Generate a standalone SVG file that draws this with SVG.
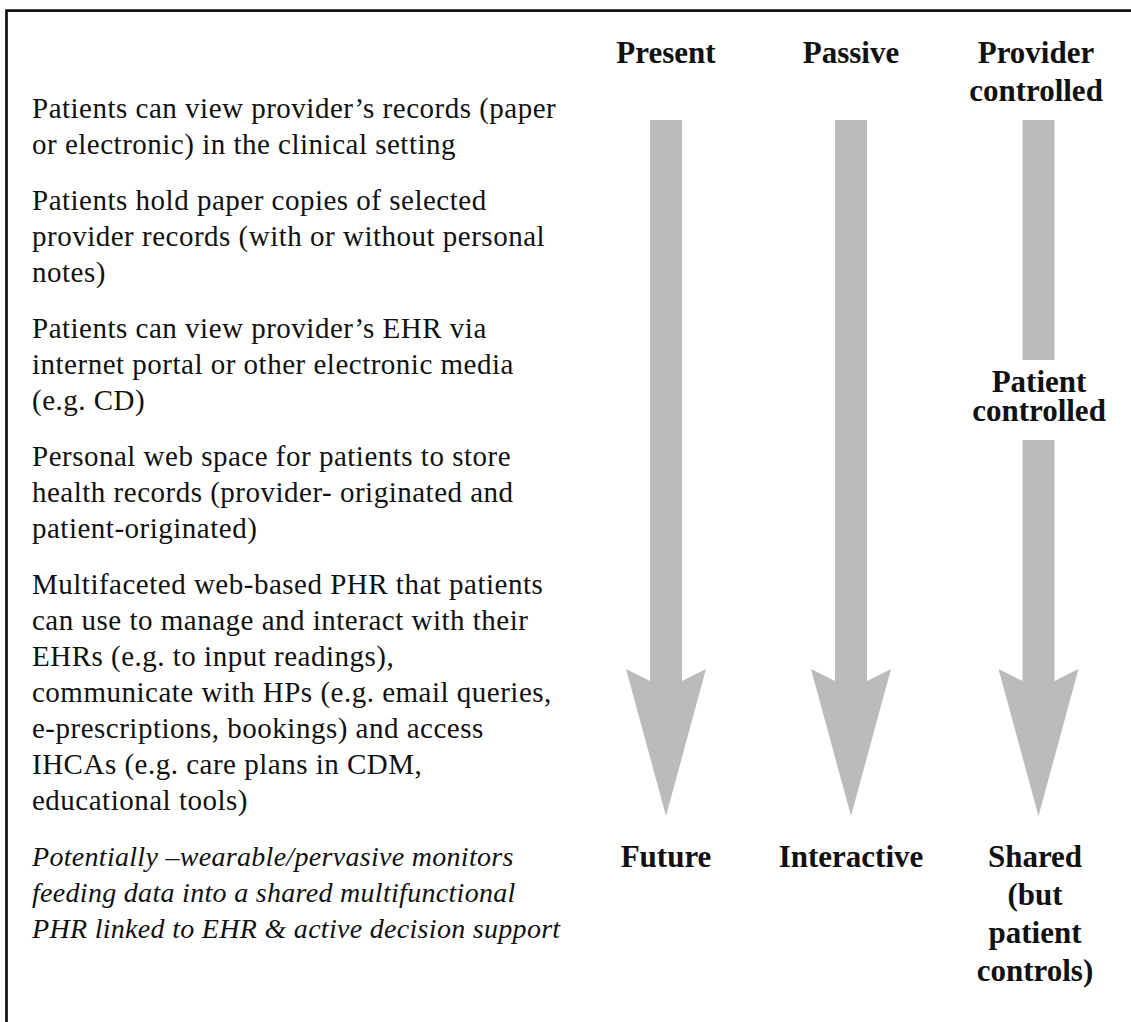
<svg xmlns="http://www.w3.org/2000/svg" width="1131" height="1022" viewBox="0 0 1131 1022">
<style>
.frame{fill:none;stroke:#111;stroke-width:2.7}
.arrow{fill:#bbbbbb;stroke:none}
.body{font-family:"Liberation Serif",serif;font-size:29px;letter-spacing:0.5px;fill:#111}
.ital{font-style:italic;font-size:28px;letter-spacing:0.3px}
.head{font-family:"Liberation Serif",serif;font-size:31px;font-weight:bold;fill:#111;text-anchor:middle}
</style>
<rect width="1131" height="1022" fill="#fff"/>
<path class="frame" d="M6.5 1022 V10.7 H1131"/>
<g id="connectors">
<polygon class="arrow" points="650,120 682,120 682,681 706,669 666,816 626,669 650,681"/>
<polygon class="arrow" points="835,120 867,120 867,681 891,669 851,816 811,669 835,681"/>
<rect class="arrow" x="1022.5" y="120" width="32" height="240"/>
<polygon class="arrow" points="1022.5,440 1054.5,440 1054.5,681 1078.5,669 1038.5,816 998.5,669 1022.5,681"/>
</g>
<g id="item1" class="body">
<text x="32" y="117.5">Patients can view provider’s records (paper</text>
<text x="32" y="153.5">or electronic) in the clinical setting</text>
</g>
<g id="item2" class="body">
<text x="32" y="209.5">Patients hold paper copies of selected</text>
<text x="32" y="245.5">provider records (with or without personal</text>
<text x="32" y="281.5">notes)</text>
</g>
<g id="item3" class="body">
<text x="32" y="337.5">Patients can view provider’s EHR via</text>
<text x="32" y="373.5">internet portal or other electronic media</text>
<text x="32" y="409.5">(e.g. CD)</text>
</g>
<g id="item4" class="body">
<text x="32" y="465.5">Personal web space for patients to store</text>
<text x="32" y="501.5">health records (provider- originated and</text>
<text x="32" y="537.5">patient-originated)</text>
</g>
<g id="item5" class="body">
<text x="32" y="593.5">Multifaceted web-based PHR that patients</text>
<text x="32" y="629.5">can use to manage and interact with their</text>
<text x="32" y="665.5">EHRs (e.g. to input readings),</text>
<text x="32" y="701.5">communicate with HPs (e.g. email queries,</text>
<text x="32" y="737.5">e-prescriptions, bookings) and access</text>
<text x="32" y="773.5">IHCAs (e.g. care plans in CDM,</text>
<text x="32" y="809.5">educational tools)</text>
</g>
<g id="item6" class="body ital">
<text x="32" y="865.5">Potentially –wearable/pervasive monitors</text>
<text x="32" y="901.5">feeding data into a shared multifunctional</text>
<text x="32" y="937.5">PHR linked to EHR &amp; active decision support</text>
</g>
<g id="present" class="head">
<text x="666" y="63">Present</text>
</g>
<g id="passive" class="head">
<text x="851" y="63">Passive</text>
</g>
<g id="provider-controlled" class="head">
<text x="1036" y="63">Provider</text>
<text x="1036" y="101">controlled</text>
</g>
<g id="patient-controlled" class="head">
<text x="1039" y="392">Patient</text>
<text x="1039" y="421">controlled</text>
</g>
<g id="future" class="head">
<text x="666" y="867">Future</text>
</g>
<g id="interactive" class="head">
<text x="851" y="867">Interactive</text>
</g>
<g id="shared" class="head">
<text x="1035" y="867">Shared</text>
<text x="1035" y="905">(but</text>
<text x="1035" y="943">patient</text>
<text x="1035" y="981">controls)</text>
</g>
</svg>
